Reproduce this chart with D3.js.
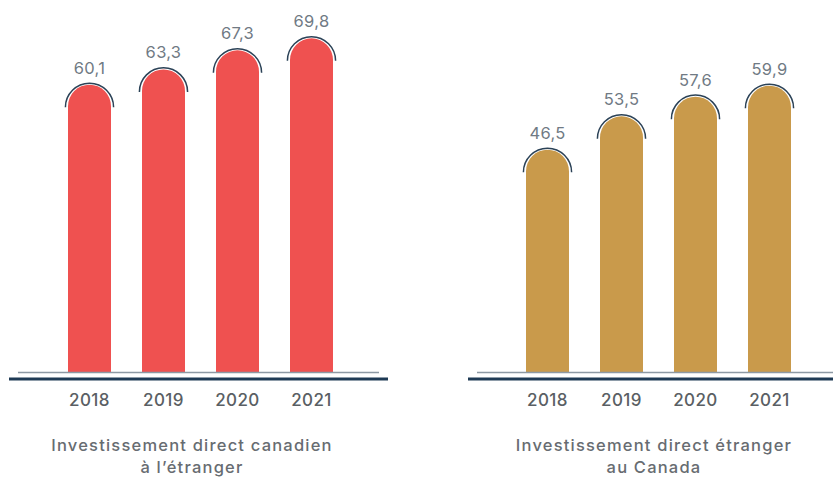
<!DOCTYPE html>
<html>
<head>
<meta charset="utf-8">
<script src="https://cdn.jsdelivr.net/npm/d3@7"></script>
<style>
  body { margin: 0; background: #fff; }
  svg { display: block; font-family: Inter, "Open Sans", sans-serif; }
</style>
</head>
<body>
<div id="chart"></div>
<script>
// data
const years = ["2018", "2019", "2020", "2021"];
const canadianAbroad = [60.1, 63.3, 67.3, 69.8];
const foreignInCanada = [46.5, 53.5, 57.6, 59.9];
const titles = [
  ["Investissement direct canadien", "à l’étranger"],
  ["Investissement direct étranger", "au Canada"]
];

const width = 833, height = 477;
const baseY = 372;

const svg = d3.select("#chart").append("svg")
  .attr("width", width)
  .attr("height", height);

const y = d3.scaleLinear().domain([0, 70]).range([baseY, baseY - 70 * 4.78]);

const fmt = v => d3.format(".1f")(v).replace(".", ",");

const panels = [
  { values: canadianAbroad, color: "#ef5150", range: [37, 364], grey: [18, 379], dark: [9, 388], title: titles[0], tx: 192 },
  { values: foreignInCanada, color: "#c99a4b", range: [495, 822], grey: [477, 833], dark: [468, 833], title: titles[1], tx: 654 }
];

panels.forEach(p => {
  const x = d3.scaleBand().domain(years).range(p.range).padding(0.419);
  const bw = x.bandwidth();
  const r = bw / 2;
  const g = svg.append("g");

  // bars with rounded top
  g.selectAll("path.bar")
    .data(years)
    .enter().append("path")
    .attr("class", "bar")
    .attr("fill", p.color)
    .attr("d", (d, i) => {
      const x0 = x(d), x1 = x0 + bw, top = y(p.values[i]);
      return "M" + x0 + "," + baseY +
        "L" + x0 + "," + (top + r) +
        "A" + r + "," + r + " 0 0 1 " + x1 + "," + (top + r) +
        "L" + x1 + "," + baseY + "Z";
    });

  // outer arc stroke
  g.selectAll("path.arc")
    .data(years)
    .enter().append("path")
    .attr("class", "arc")
    .attr("fill", "none")
    .attr("stroke", "#2b4257")
    .attr("stroke-width", 1.5)
    .attr("d", (d, i) => {
      const cx = x(d) + r, cy = y(p.values[i]) + r + 1, R = r + 2.6;
      return "M" + (cx - R) + "," + cy + "A" + R + "," + R + " 0 0 1 " + (cx + R) + "," + cy;
    });

  // value labels
  g.selectAll("text.val")
    .data(years)
    .enter().append("text")
    .attr("class", "val")
    .attr("x", d => x(d) + r)
    .attr("y", (d, i) => y(p.values[i]) - 11)
    .attr("text-anchor", "middle")
    .attr("fill", "#707a84")
    .style("font-size", "16.5px")
    .style("letter-spacing", "0.3px")
    .text((d, i) => fmt(p.values[i]));

  // baselines
  g.append("line")
    .attr("x1", p.grey[0]).attr("x2", p.grey[1])
    .attr("y1", baseY + 0.5).attr("y2", baseY + 0.5)
    .attr("stroke", "#8d99a4").attr("stroke-width", 1.5);
  g.append("line")
    .attr("x1", p.dark[0]).attr("x2", p.dark[1])
    .attr("y1", 379).attr("y2", 379)
    .attr("stroke", "#1e3a55").attr("stroke-width", 3);

  // year labels
  g.selectAll("text.year")
    .data(years)
    .enter().append("text")
    .attr("class", "year")
    .attr("x", d => x(d) + r)
    .attr("y", 406)
    .attr("text-anchor", "middle")
    .attr("fill", "#5a5f64")
    .style("font-size", "17px")
    .style("font-weight", "500")
    .style("letter-spacing", "0.4px")
    .text(d => d);

  // title
  g.selectAll("text.title")
    .data(p.title)
    .enter().append("text")
    .attr("class", "title")
    .attr("x", p.tx)
    .attr("y", (d, i) => 451 + i * 22)
    .attr("text-anchor", "middle")
    .attr("fill", "#676c71")
    .style("font-size", "16.5px")
    .style("font-weight", "500")
    .style("letter-spacing", "1.2px")
    .text(d => d);
});
</script>
</body>
</html>
